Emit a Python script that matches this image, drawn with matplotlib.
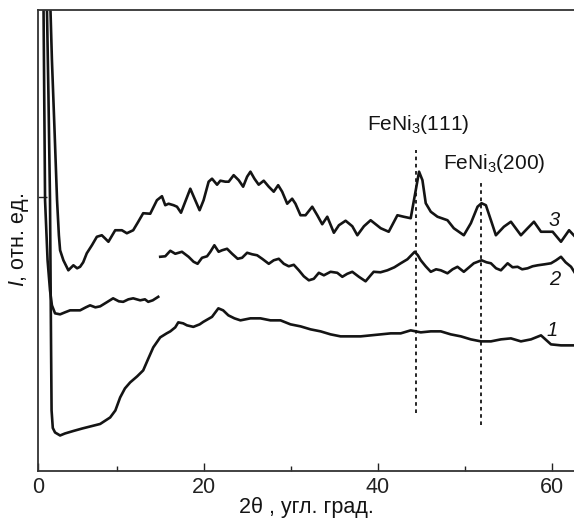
import matplotlib
matplotlib.use("Agg")
import matplotlib.pyplot as plt
from matplotlib.ticker import FixedLocator

plt.rcParams['font.family'] = ['Liberation Sans', 'DejaVu Sans']
plt.rcParams['mathtext.fontset'] = 'custom'
plt.rcParams['mathtext.rm'] = 'Liberation Sans'
plt.rcParams['mathtext.it'] = 'Liberation Sans:italic'

# ---- data (2theta, deg ; intensity, rel. units) ----
x1 = [1.85, 2.1, 2.28, 2.4, 2.46, 2.6, 2.86, 3.44, 4.0, 4.97, 6.0, 8.05, 9.2, 9.8, 10.35, 10.9,
      11.5, 12.3, 13.0, 13.6, 14.16, 14.96, 15.7, 16.12, 16.69, 17.04, 17.6, 18.04, 18.77, 19.5,
      19.92, 20.92, 21.65, 22.2, 22.8, 23.5, 24.19, 25.34, 26.49, 27.64, 28.8, 29.95, 31.1,
      32.26, 33.41, 34.56, 35.71, 36.87, 38.02, 39.17, 40.33, 41.48, 42.63, 43.78, 44.94,
      46.09, 47.24, 48.39, 49.55, 50.7, 51.85, 53.01, 54.16, 55.31, 56.46, 57.62, 58.77,
      59.92, 61.07, 62.7]
y1 = [100, 75, 54, 25, 12, 8.5, 7.6, 7.0, 7.4, 7.9, 8.4, 9.3, 10.6, 12.0, 14.6, 16.4,
      17.6, 18.8, 20.0, 22.4, 24.6, 26.6, 27.4, 27.8, 28.6, 29.6, 29.4, 29.0, 28.7, 29.2,
      29.7, 30.7, 32.4, 32.0, 31.0, 30.4, 30.0, 30.4, 30.4, 30.0, 30.0, 29.2, 28.8,
      28.2, 27.8, 27.2, 26.8, 26.8, 26.8, 27.0, 27.2, 27.4, 27.4, 28.0, 27.6,
      27.8, 27.8, 27.2, 26.8, 26.2, 25.8, 25.8, 26.2, 26.4, 25.8, 26.2, 27.0,
      25.2, 25.0, 25.0]

x2a = [1.5, 1.71, 2.0, 2.28, 2.5, 2.86, 3.44, 4.0, 4.59, 5.74, 6.4, 6.89, 7.5, 8.05, 8.8,
       9.54, 10.2, 10.7, 11.3, 11.85, 12.66, 13.2, 13.58, 14.1, 14.73]
y2a = [100, 54, 42, 36, 33, 31.4, 31.2, 31.6, 32.0, 32.0, 32.6, 33.0, 32.6, 32.8, 33.6,
       34.4, 33.8, 33.7, 34.2, 34.4, 34.0, 34.2, 33.7, 34.0, 34.7]

x2b = [14.96, 15.54, 16.12, 16.69, 17.46, 18.22, 18.8, 19.26, 19.77, 20.35, 20.73, 21.19,
       21.68, 22.08, 22.65, 23.23, 23.87, 24.38, 24.96, 25.53, 26.11, 26.69, 27.45, 28.02,
       28.6, 29.18, 29.75, 30.33, 30.91, 31.48, 32.06, 32.63, 33.21, 33.79, 34.56, 35.33,
       35.91, 36.48, 37.06, 37.82, 38.59, 39.17, 39.52, 40.3, 41.1, 41.9, 42.63, 43.4,
       44.24, 44.6, 44.94, 45.5, 46.09, 46.7, 47.24, 48.01, 48.6, 49.16, 49.89, 50.5,
       51.04, 51.93, 52.5, 53.01, 53.6, 54.16, 54.93, 55.5, 56.08, 56.6, 57.23, 57.8,
       58.39, 59.2, 59.92, 60.5, 61.07, 61.6, 62.23, 62.7]
y2b = [42.7, 42.8, 43.9, 43.3, 43.7, 42.7, 41.7, 41.3, 42.5, 42.8, 43.7, 45.0,
       43.7, 44.0, 44.3, 43.3, 42.3, 42.5, 43.5, 43.2, 43.0, 42.3, 41.3, 42.0,
       42.3, 41.3, 40.8, 41.1, 40.0, 38.8, 38.0, 38.3, 39.5, 39.0, 39.7, 39.5,
       38.7, 39.3, 39.7, 38.7, 37.8, 39.0, 39.7, 39.6, 40.0, 40.6, 41.4, 42.2,
       43.7, 43.0, 42.0, 40.8, 39.7, 40.2, 40.0, 39.4, 40.2, 40.7, 39.7, 40.6,
       41.4, 42.0, 41.6, 41.4, 40.4, 40.0, 41.4, 40.6, 40.7, 40.2, 40.4, 40.8,
       41.0, 41.2, 41.4, 42.0, 42.7, 41.6, 40.7, 39.4]

x3 = [2.2, 2.5, 2.8, 3.09, 3.3, 3.44, 3.82, 4.39, 4.97, 5.4, 5.74, 6.1, 6.51, 7.1, 7.67,
      8.24, 8.6, 9.0, 9.78, 10.55, 11.12, 11.85, 12.4, 13.0, 13.81, 14.58, 15.16, 15.54,
      15.92, 16.5, 16.89, 17.35, 17.84, 18.42, 18.99, 19.49, 19.95, 20.53, 20.92, 21.5,
      21.88, 22.46, 22.84, 23.41, 23.99, 24.5, 24.96, 25.34, 25.8, 26.29, 26.87, 27.45,
      28.02, 28.53, 28.99, 29.57, 30.14, 30.52, 31.1, 31.68, 32.45, 33.03, 33.6, 34.18,
      34.94, 35.52, 36.29, 37.06, 37.64, 38.4, 39.17, 40.33, 41.25, 42.25, 42.97, 43.78,
      44.36, 44.74, 45.13, 45.51, 46.09, 46.86, 48.01, 48.74, 49.89, 50.7, 51.47, 51.93,
      52.43, 53.01, 53.58, 54.5, 55.31, 56.46, 57.23, 57.96, 58.77, 60.11, 61.07, 62.0,
      62.7]
y3 = [100, 82, 68, 54, 47, 44, 42, 40, 41, 40.4, 40.7, 41.6, 43.4, 45, 46.7,
      47, 46.4, 45.7, 48, 48, 47.4, 48, 49.6, 51.4, 51.3, 54.0, 54.8, 53.0,
      53.3, 53.0, 52.7, 51.5, 53.7, 56.3, 54.0, 52.0, 54.0, 57.7, 58.3, 57.1,
      57.9, 57.7, 57.7, 59.0, 58.0, 56.7, 58.7, 59.7, 58.3, 57.1, 57.9, 56.7,
      55.7, 57.0, 55.7, 53.3, 54.3, 53.3, 51.0, 51.0, 52.7, 51.0, 49.2, 50.7,
      47.5, 49.0, 49.9, 48.8, 47.0, 48.8, 50.0, 48.4, 47.7, 51.0, 50.7, 50.4,
      56.0, 59.7, 58.0, 53.4, 51.7, 50.7, 50.0, 48.4, 47.0, 49.4, 52.7, 53.4,
      53.0, 50.0, 47.0, 48.7, 49.7, 47.0, 48.4, 49.7, 47.7, 47.7, 45.7, 48.0,
      46.7]

peak_pos = [44.4, 51.9]
peak_top = [64, 58]
peak_bottom = [11.4, 9]
peak_labels = [r"FeNi$_\mathregular{3}$(111)", r"FeNi$_\mathregular{3}$(200)"]
label_pos = [(44.6, 69.2), (53.4, 61.3)]

curve_labels = ["1", "2", "3"]
curve_label_pos = [(60.0, 28.0), (60.3, 38.2), (60.3, 50.0)]

xtick_major = [20, 40, 60]
xtick_minor = [10, 30, 50]
ytick = [54.6]
xmin, xmax = 0.865, 62.7
ymin, ymax = 0, 92

# ---- figure ----
fig = plt.figure(figsize=(5.74, 5.21), dpi=100)
ax = fig.add_axes([0.0657, 0.0969, 1 - 0.0657 + 0.002, 0.8839])
col = '#141414'
lw = 1.9
ax.plot(x1, y1, color=col, lw=lw, solid_joinstyle='round')
ax.plot(x2a, y2a, color=col, lw=lw, solid_joinstyle='round')
ax.plot(x2b, y2b, color=col, lw=lw, solid_joinstyle='round')
ax.plot(x3, y3, color=col, lw=lw, solid_joinstyle='round')

for xp, yt, yb in zip(peak_pos, peak_top, peak_bottom):
    ax.plot([xp, xp], [yb, yt], color=col, lw=1.3, linestyle=(0, (2, 2)))
for txt, (tx, ty) in zip(peak_labels, label_pos):
    ax.text(tx, ty, txt, ha='center', va='center', fontsize=15, color=col)
for txt, (tx, ty) in zip(curve_labels, curve_label_pos):
    ax.text(tx, ty, txt, ha='center', va='center', fontsize=14.5, style='italic', color=col)

ax.set_xlim(xmin, xmax)
ax.set_ylim(ymin, ymax)
ax.set_xticks([xmin] + xtick_major, ['0'] + [str(v) for v in xtick_major])
ax.xaxis.set_minor_locator(FixedLocator(xtick_minor))
ax.set_yticks(ytick, [''])
ax.tick_params(axis='x', which='major', direction='in', length=6, width=1, labelsize=15.5,
               pad=5, colors='#222222')
ax.tick_params(axis='x', which='minor', direction='in', length=3.5, width=1, colors='#222222')
ax.tick_params(axis='y', which='major', direction='in', length=6.5, width=1, colors='#222222')
ax.spines['right'].set_visible(False)
for s in ['left', 'bottom', 'top']:
    ax.spines[s].set_linewidth(1.3)
    ax.spines[s].set_color('#333333')

ax.set_xlabel(r"2θ , угл. град.", fontsize=15.5, labelpad=-1, color=col)
ax.set_ylabel(r"$\mathit{I}$, отн. ед.", fontsize=15.5, labelpad=1, color=col)

fig.savefig("out.png", dpi=100)
